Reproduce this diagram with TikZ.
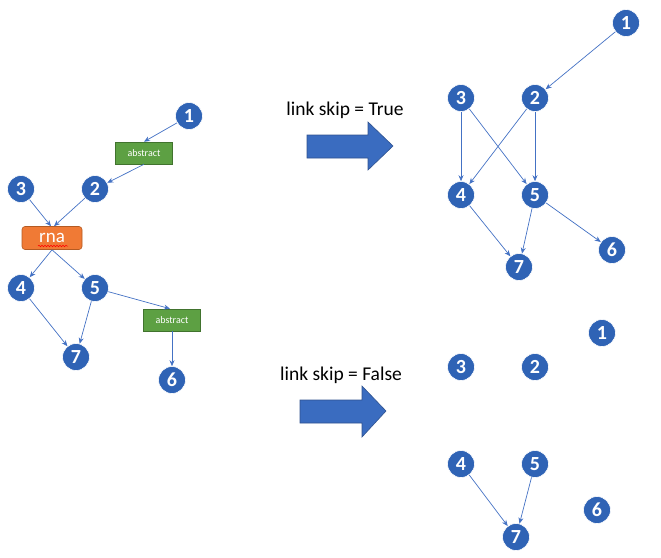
\documentclass[tikz,border=0pt]{standalone}
\usepackage{fontspec}
\setmainfont{Carlito}
\usetikzlibrary{arrows.meta,decorations.pathmorphing}
\definecolor{nodeblue}{HTML}{2F63B5}
\definecolor{edgeblue}{HTML}{4472C4}
\definecolor{arrowblue}{HTML}{3A6CC0}
\definecolor{arrowborder}{HTML}{2F528F}
\definecolor{absgreen}{HTML}{5DA043}
\definecolor{absborder}{HTML}{41732E}
\definecolor{rnaorange}{HTML}{F07A35}
\definecolor{rnaborder}{HTML}{B45A22}
\tikzset{
  num/.style={circle, fill=nodeblue, draw=white, line width=0.6pt, minimum size=27pt, inner sep=0pt,
    text=white, font=\fontsize{20}{20}\selectfont\bfseries},
  absbox/.style={rectangle, fill=absgreen, draw=absborder, line width=0.6pt, minimum width=57pt, minimum height=22pt,
    inner sep=0pt, text=white, font=\fontsize{10}{10}\selectfont},
  rnabox/.style={rectangle, rounded corners=3pt, fill=rnaorange, draw=rnaborder, line width=0.6pt, minimum width=60pt,
    minimum height=23pt, inner sep=0pt, text=white, font=\fontsize{19}{19}\selectfont},
  edge/.style={draw=edgeblue, line width=0.7pt, -{Stealth[length=6pt,width=5pt]}},
  bigarrow/.style={fill=arrowblue, draw=arrowborder, line width=0.6pt},
  lbl/.style={font=\fontsize{19.5}{19.5}\selectfont, text=black}
}
\begin{document}
\begin{tikzpicture}[x=1pt,y=-1pt]
\useasboundingbox (0,0) rectangle (661,557);
% left graph
\node[num] (l1) at (189,116) {1};
\node[absbox] (la1) at (144,153) {abstract};
\node[num] (l3) at (21,189) {3};
\node[num] (l2) at (95,189) {2};
\node[rnabox] (rna) at (52,238) {rna};
\node[num] (l4) at (21,288) {4};
\node[num] (l5) at (95,288) {5};
\node[absbox] (la2) at (172,320) {abstract};
\node[num] (l7) at (76,357) {7};
\node[num] (l6) at (172,380) {6};
\coordinate (wl) at (38,246);
\coordinate (wr) at (68,246);
\draw[red, line width=0.5pt, decorate, decoration={snake, amplitude=0.8pt, segment length=3pt}] (wl) -- (wr);
\draw[edge] (l1) -- (la1.north);
\draw[edge] (la1.south) -- (l2);
\draw[edge] (l3) -- ([xshift=-1pt]rna.north);
\draw[edge] (l2) -- ([xshift=2pt]rna.north);
\draw[edge] (rna.south) -- (l4);
\draw[edge] (rna.south) -- (l5);
\draw[edge] (l4) -- (l7);
\draw[edge] (l5) -- (l7);
\draw[edge] (l5) -- ([xshift=-2pt]la2.north);
\draw[edge] (la2.south) -- (l6);
% big arrows and labels
\node[lbl] (tTrue) at (345,110) {link skip = True};
\draw[bigarrow] (307,135) -- (368,135) -- (368,122) -- (393,146) -- (368,170) -- (368,158) -- (307,158) -- cycle;
\node[lbl] (tFalse) at (341,375) {link skip = False};
\draw[bigarrow] (300,400) -- (362,400) -- (362,386) -- (386,411) -- (362,437) -- (362,423) -- (300,423) -- cycle;
% right top graph
\node[num] (a1) at (626,23) {1};
\node[num] (a3) at (461,98) {3};
\node[num] (a2) at (535,98) {2};
\node[num] (a4) at (461,195) {4};
\node[num] (a5) at (535,195) {5};
\node[num] (a6) at (612,250) {6};
\node[num] (a7) at (519,267) {7};
\draw[edge] (a1) -- (a2);
\draw[edge] (a3) -- (a4);
\draw[edge] (a3) -- (a5);
\draw[edge] (a2) -- (a4);
\draw[edge] (a2) -- (a5);
\draw[edge] (a4) -- (a7);
\draw[edge] (a5) -- (a7);
\draw[edge] (a5) -- (a6);
% right bottom graph
\node[num] (b1) at (602,333) {1};
\node[num] (b3) at (461,367) {3};
\node[num] (b2) at (535,367) {2};
\node[num] (b4) at (461,464) {4};
\node[num] (b5) at (535,464) {5};
\node[num] (b6) at (597,510) {6};
\node[num] (b7) at (516,537) {7};
\draw[edge] (b4) -- (b7);
\draw[edge] (b5) -- (b7);
\end{tikzpicture}
\end{document}
